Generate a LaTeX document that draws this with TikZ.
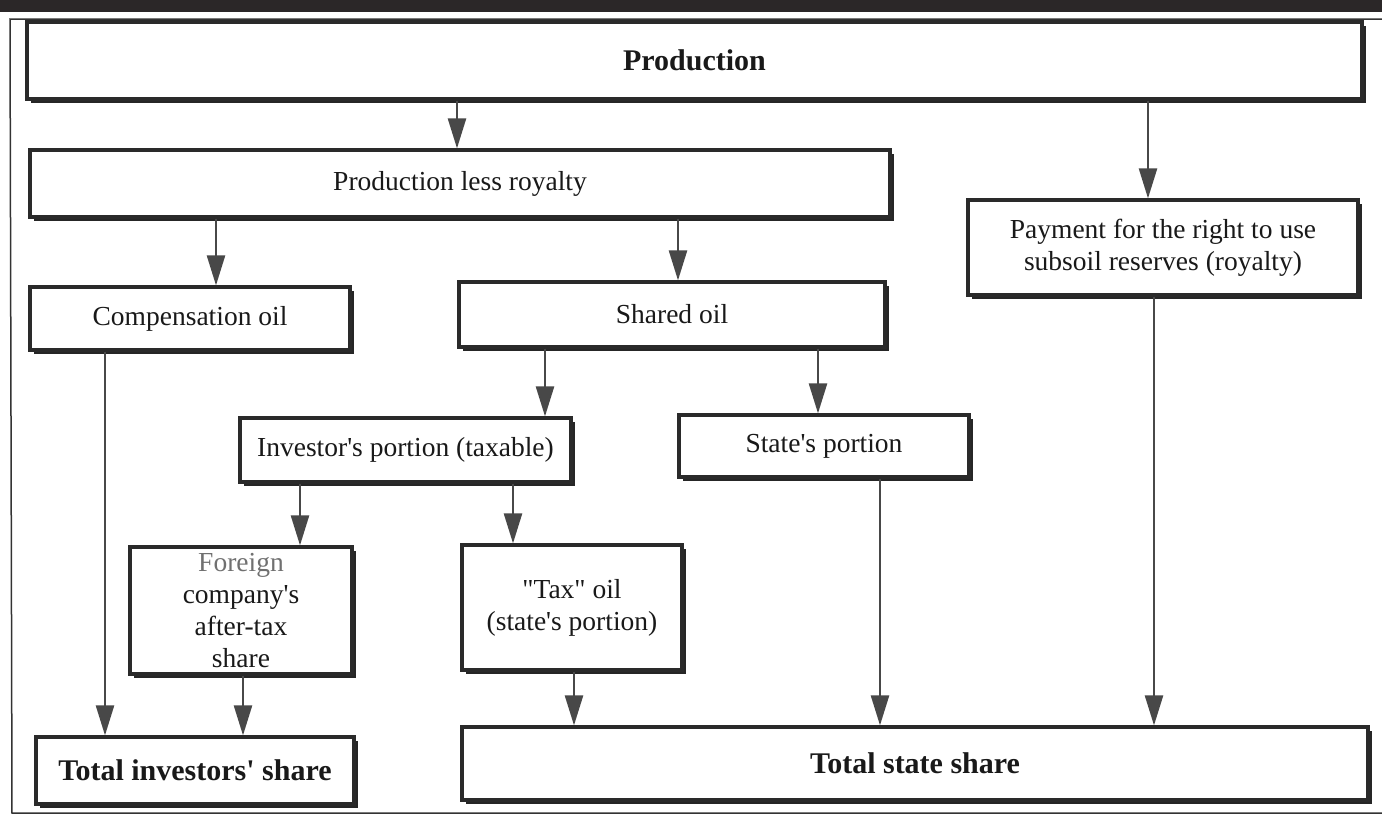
\documentclass[tikz,border=0pt]{standalone}
\usepackage{fontspec}
\setmainfont{Liberation Serif}[Ligatures=TeXOff]
\usetikzlibrary{arrows.meta,shadows}
\definecolor{inkc}{HTML}{2A2A2A}
\definecolor{arrc}{HTML}{484848}
\definecolor{bandc}{HTML}{2B2728}
\definecolor{grayt}{HTML}{707070}
\tikzset{
  box/.style={draw=inkc, line width=3.2pt, fill=white, align=center, text=black!90,
    inner sep=2pt, font=\fontsize{27.5}{32}\selectfont,
    drop shadow={shadow xshift=4pt, shadow yshift=-4pt, fill=black!85, opacity=1}},
  boldbox/.style={box, font=\fontsize{30}{34}\selectfont\bfseries},
  arr/.style={draw=arrc, line width=2.4pt, -{Triangle[width=18pt,length=30pt]}, fill=arrc},
  frame/.style={draw=black!80, line width=1.5pt}
}
\begin{document}
\begin{tikzpicture}[x=1pt,y=-1pt]
\useasboundingbox (0,0) rectangle (1382,819);
\fill[white] (0,0) rectangle (1382,819);
% scan band and outer frame
\fill[bandc] (0,0) rectangle (1382,12);
\draw[frame] (1382,19) -- (10,19) -- (12,813) -- (1382,813);
% boxes
\node[boldbox, minimum width=1335pt, minimum height=77pt] (prod) at (694.5,60.5) {Production};
\node[box, minimum width=860pt, minimum height=67pt] (plr) at (460,183.5) {Production less royalty};
\node[box, minimum width=390pt, minimum height=95pt] (pay) at (1163,247.5) {Payment for the right to use\\subsoil reserves (royalty)};
\node[box, minimum width=320pt, minimum height=63pt] (comp) at (190,318.5) {Compensation oil};
\node[box, minimum width=426pt, minimum height=65pt] (shared) at (672,314.5) {Shared oil};
\node[box, minimum width=331pt, minimum height=64pt] (inv) at (405.5,450) {Investor's portion (taxable)};
\node[box, minimum width=290pt, minimum height=62pt] (state) at (824,446) {State's portion};
\node[box, minimum width=222pt, minimum height=127pt] (foreign) at (241,610.5) {\textcolor{grayt}{Foreign}\\company's\\after-tax\\share};
\node[box, minimum width=220pt, minimum height=125pt] (tax) at (572,607.5) {"Tax" oil\\(state's portion)};
\node[boldbox, minimum width=318pt, minimum height=67pt] (totinv) at (195,770.5) {Total investors' share};
\node[boldbox, minimum width=906pt, minimum height=73pt] (totstate) at (915,763.5) {Total state share};
% arrow columns
\coordinate (a1) at (457,0);
\coordinate (a2) at (1148,0);
\coordinate (a3) at (216,0);
\coordinate (a4) at (678,0);
\coordinate (a5) at (545,0);
\coordinate (a6) at (818,0);
\coordinate (a7) at (300,0);
\coordinate (a8) at (513,0);
\coordinate (a9) at (243,0);
\coordinate (a10) at (105,0);
\coordinate (a11) at (574,0);
\coordinate (a12) at (880,0);
\coordinate (a13) at (1154,0);
% connectors
\draw[arr] (prod.south -| a1) -- (plr.north -| a1);
\draw[arr] (prod.south -| a2) -- (pay.north -| a2);
\draw[arr] (plr.south -| a3) -- (comp.north -| a3);
\draw[arr] (plr.south -| a4) -- (shared.north -| a4);
\draw[arr] (shared.south -| a5) -- (inv.north -| a5);
\draw[arr] (shared.south -| a6) -- (state.north -| a6);
\draw[arr] (inv.south -| a7) -- (foreign.north -| a7);
\draw[arr] (inv.south -| a8) -- (tax.north -| a8);
\draw[arr] (foreign.south -| a9) -- (totinv.north -| a9);
\draw[arr] (comp.south -| a10) -- (totinv.north -| a10);
\draw[arr] (tax.south -| a11) -- (totstate.north -| a11);
\draw[arr] (state.south -| a12) -- (totstate.north -| a12);
\draw[arr] (pay.south -| a13) -- (totstate.north -| a13);
\end{tikzpicture}
\end{document}
